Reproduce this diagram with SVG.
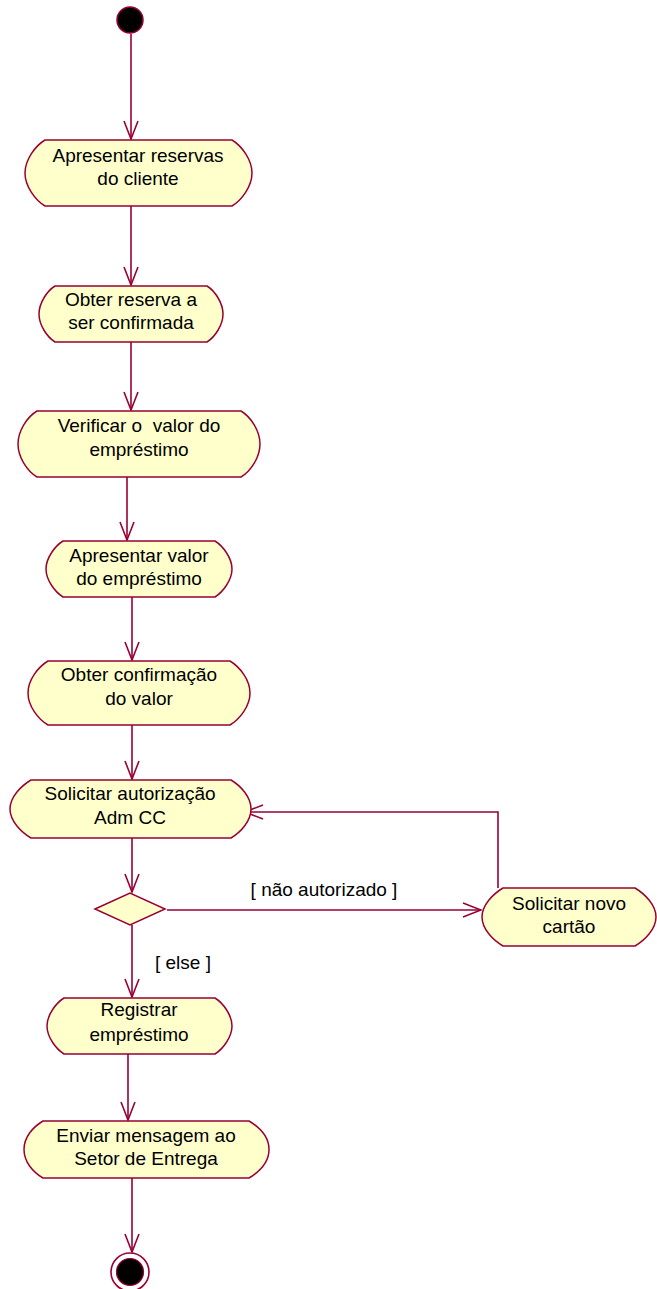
<svg xmlns="http://www.w3.org/2000/svg" width="657" height="1289" viewBox="0 0 657 1289">
<style>
.node{fill:#FFFFCC;stroke:#990033;stroke-width:1.5}
.edge{fill:none;stroke:#990033;stroke-width:1.6}
text{font-family:"Liberation Sans",Arial,sans-serif;font-size:19px;fill:#000;text-anchor:middle;white-space:pre}
</style>
<defs>
<marker id="arr" markerUnits="userSpaceOnUse" markerWidth="22" markerHeight="18" viewBox="-20 -9 22 18" refX="0" refY="0" orient="auto">
<path d="M-18,-7 L0,0 L-18,7" fill="none" stroke="#990033" stroke-width="1.6"/>
</marker>
</defs>
<g id="connectors">
<path class="edge" d="M131,34 V139" marker-end="url(#arr)"/>
<path class="edge" d="M131,206 V285" marker-end="url(#arr)"/>
<path class="edge" d="M131,342 V410" marker-end="url(#arr)"/>
<path class="edge" d="M127,477 V540" marker-end="url(#arr)"/>
<path class="edge" d="M132,597 V660" marker-end="url(#arr)"/>
<path class="edge" d="M132,725 V779" marker-end="url(#arr)"/>
<path class="edge" d="M132,838 V892" marker-end="url(#arr)"/>
<path class="edge" d="M167,910 H481" marker-end="url(#arr)"/>
<path class="edge" d="M498,888 V812 H245" marker-end="url(#arr)"/>
<path class="edge" d="M132,925 V997" marker-end="url(#arr)"/>
<path class="edge" d="M128,1054 V1120" marker-end="url(#arr)"/>
<path class="edge" d="M132,1178 V1252" marker-end="url(#arr)"/>
<text x="324" y="896">[ não autorizado ]</text>
<text x="183" y="969">[ else ]</text>
</g>
<g id="start"><circle cx="130" cy="20" r="13" fill="#000" stroke="#990033" stroke-width="1.5"/></g>
<g id="n1">
<path class="node" d="M45,140 H232 C242,146 252,160 252,173 C252,186 242,200 232,206 H45 C35,200 25,186 25,173 C25,160 35,146 45,140 Z"/>
<text x="138" y="162">Apresentar reservas</text><text x="138" y="185">do cliente</text>
</g>
<g id="n2">
<path class="node" d="M55,286 H207 C215,291 223,303 223,314 C223,325 215,337 207,342 H55 C47,337 39,325 39,314 C39,303 47,291 55,286 Z"/>
<text x="131" y="306">Obter reserva a</text><text x="131" y="329">ser confirmada</text>
</g>
<g id="n3">
<path class="node" d="M37,411 H241 C251,417 260,431 260,444 C260,457 251,471 241,477 H37 C27,471 18,457 18,444 C18,431 27,417 37,411 Z"/>
<text x="139" y="432">Verificar o  valor do</text><text x="139" y="456">empréstimo</text>
</g>
<g id="n4">
<path class="node" d="M63,541 H215 C223,546 232,558 232,569 C232,580 223,592 215,597 H63 C55,592 46,580 46,569 C46,558 55,546 63,541 Z"/>
<text x="139" y="562">Apresentar valor</text><text x="139" y="585">do empréstimo</text>
</g>
<g id="n5">
<path class="node" d="M48,661 H230 C240,667 250,680 250,693 C250,706 240,719 230,725 H48 C38,719 28,706 28,693 C28,680 38,667 48,661 Z"/>
<text x="139" y="681">Obter confirmação</text><text x="139" y="705">do valor</text>
</g>
<g id="n6">
<path class="node" d="M31,780 H231 C241,786 251,797 251,809 C251,821 241,832 231,838 H31 C21,832 10,821 10,809 C10,797 21,786 31,780 Z"/>
<text x="130" y="800">Solicitar autorização</text><text x="130" y="824">Adm CC</text>
</g>
<g id="decision">
<path class="node" d="M95,909 L130,893 L165,909 L130,925 Z"/>
</g>
<g id="n7">
<path class="node" d="M503,888 H635 C645,894 656,905 656,917 C656,929 645,940 635,946 H503 C493,940 482,929 482,917 C482,905 493,894 503,888 Z"/>
<text x="569" y="910">Solicitar novo</text><text x="569" y="933">cartão</text>
</g>
<g id="n8">
<path class="node" d="M64,998 H215 C223,1003 232,1015 232,1026 C232,1037 223,1049 215,1054 H64 C56,1049 47,1037 47,1026 C47,1015 56,1003 64,998 Z"/>
<text x="139" y="1016">Registrar</text><text x="139" y="1041">empréstimo</text>
</g>
<g id="n9">
<path class="node" d="M43,1121 H249 C259,1127 269,1137 269,1149.5 C269,1162 259,1172 249,1178 H43 C33,1172 24,1162 24,1149.5 C24,1137 33,1127 43,1121 Z"/>
<text x="146" y="1142">Enviar mensagem ao</text><text x="146" y="1165">Setor de Entrega</text>
</g>
<g id="end">
<circle cx="130" cy="1272" r="19" fill="#fff" stroke="#990033" stroke-width="1.6"/>
<circle cx="130" cy="1272" r="13.5" fill="#000" stroke="#990033" stroke-width="1.2"/>
</g>
</svg>
